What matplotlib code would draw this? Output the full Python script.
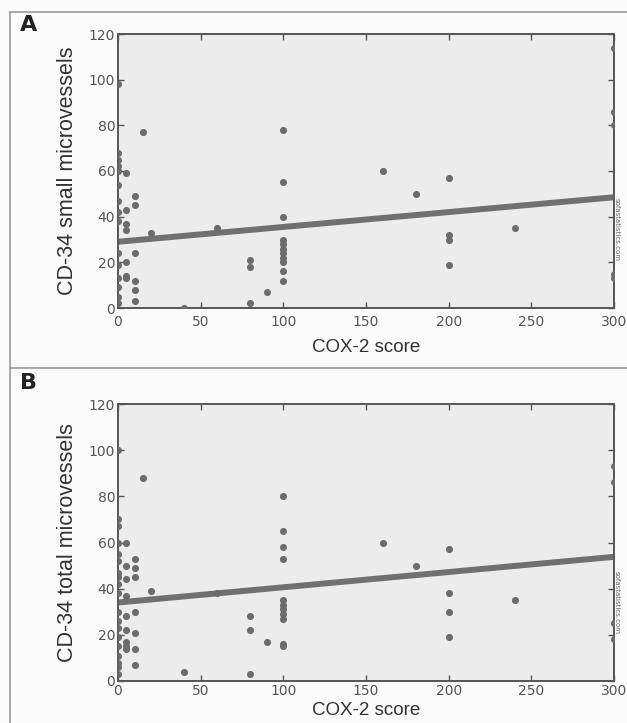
import numpy as np
import matplotlib.pyplot as plt

# panel A: COX-2 score vs CD-34 small microvessels
cox_a = [0, 0, 0, 0, 0, 0, 0, 0, 0, 0, 0, 0, 0, 0, 0,
         5, 5, 5, 5, 5, 5, 5,
         10, 10, 10, 10, 10, 10,
         15, 20, 40, 60, 80, 80, 80, 90,
         100, 100, 100, 100, 100, 100, 100, 100, 100, 100, 100,
         160, 180, 200, 200, 200, 200, 240,
         300, 300, 300, 300, 300]
small_a = [98, 68, 65, 62, 60, 54, 47, 42, 38, 24, 19, 13, 9, 5, 2,
           59, 43, 37, 34, 20, 14, 13,
           49, 45, 24, 12, 8, 3,
           77, 33, 0, 35, 21, 18, 2, 7,
           78, 55, 40, 30, 28, 26, 24, 22, 20, 16, 12,
           60, 50, 57, 32, 30, 19, 35,
           114, 86, 80, 15, 13]

# panel B: COX-2 score vs CD-34 total microvessels
cox_b = [0, 0, 0, 0, 0, 0, 0, 0, 0, 0, 0, 0, 0, 0, 0, 0, 0, 0, 0,
         5, 5, 5, 5, 5, 5, 5, 5, 5,
         10, 10, 10, 10, 10, 10, 10,
         15, 20, 40, 60, 80, 80, 80, 90,
         100, 100, 100, 100, 100, 100, 100, 100, 100, 100, 100,
         160, 180, 200, 200, 200, 200, 240,
         300, 300, 300, 300]
total_b = [100, 70, 67, 60, 55, 52, 47, 45, 42, 38, 30, 26, 23, 19, 15, 11, 8, 6, 3,
           60, 50, 44, 37, 28, 22, 17, 15, 14,
           53, 49, 45, 30, 21, 14, 7,
           88, 39, 4, 38, 28, 22, 3, 17,
           80, 65, 58, 53, 35, 33, 31, 29, 27, 16, 15,
           60, 50, 57, 38, 30, 19, 35,
           93, 86, 25, 18]

# fitted lines (intercept, slope)
fit_a = (29.0, 0.065)
fit_b = (34.0, 0.066)

grey = '#6c6c6c'
fig = plt.figure(figsize=(6.27, 7.23), dpi=100, facecolor='#fbfbfb')

# panel frames
fig.add_artist(plt.Line2D([10/627, 1], [1-12/723, 1-12/723], color='#9a9a9a', lw=1.2))
fig.add_artist(plt.Line2D([10/627, 10/627], [0, 1-12/723], color='#9a9a9a', lw=1.2))
fig.add_artist(plt.Line2D([10/627, 1], [1-368/723, 1-368/723], color='#9a9a9a', lw=1.2))
fig.text(20/627, 1-15/723, 'A', fontsize=16, fontweight='bold', va='top', color='#222222')
fig.text(20/627, 1-373/723, 'B', fontsize=16, fontweight='bold', va='top', color='#222222')


def panel(rect, xs, ys, fit, ylabel, pad, labelpad):
    ax = fig.add_axes(rect)
    ax.set_facecolor('#ececec')
    ax.scatter(xs, ys, s=26, color=grey, zorder=3, linewidths=0)
    xl = np.array([0, 300])
    ax.plot(xl, fit[0] + fit[1]*xl, color='#707070', lw=4.3, zorder=2, solid_capstyle='butt')
    ax.set_xlim(0, 300)
    ax.set_ylim(0, 120)
    ax.set_xticks([0, 50, 100, 150, 200, 250, 300])
    ax.set_yticks([0, 20, 40, 60, 80, 100, 120])
    ax.tick_params(direction='in', top=True, right=True, length=4, width=1,
                   color='#555555', labelcolor='#555555', labelsize=10)
    ax.tick_params(axis='x', pad=pad)
    ax.tick_params(axis='y', pad=2)
    for s in ax.spines.values():
        s.set_color('#555555')
        s.set_linewidth(1.4)
    ax.set_xlabel('COX-2 score', family='Liberation Sans', fontsize=13.5,
                  color='#333333', labelpad=labelpad)
    ax.set_ylabel(ylabel, family='Liberation Sans', fontsize=15.5,
                  color='#333333', labelpad=8)
    ax.text(1.006, 0.285, 'sofastatistics.com', transform=ax.transAxes, rotation=270,
            fontsize=5, color='#666666', ha='center', va='center')
    return ax


panel([118/627, 1-308/723, 496/627, 274/723], cox_a, small_a, fit_a,
      'CD-34 small microvessels', 5, 7)
panel([118/627, 1-681/723, 496/627, 277/723], cox_b, total_b, fit_b,
      'CD-34 total microvessels', 2, 3)

fig.savefig('out.png', dpi=100, facecolor=fig.get_facecolor())
